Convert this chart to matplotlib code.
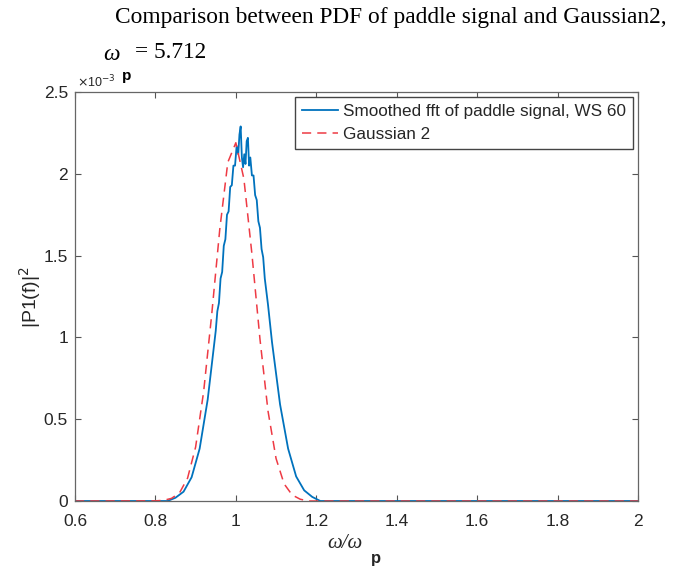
import numpy as np
import matplotlib
matplotlib.use("Agg")
import matplotlib.pyplot as plt
from matplotlib.ticker import FuncFormatter

# Smoothed fft of paddle signal (values in units of 1e-3), noisy near the top
fft_x = [0.6, 0.83, 0.85, 0.87, 0.89, 0.91, 0.93, 0.95, 0.954, 0.958, 0.962,
         0.966, 0.970, 0.974, 0.978, 0.982, 0.986, 0.990, 0.994, 0.998, 1.002,
         1.006, 1.009, 1.012, 1.015, 1.018, 1.021, 1.024, 1.027, 1.030, 1.033,
         1.036, 1.040, 1.044, 1.048, 1.052, 1.056, 1.060, 1.064, 1.068, 1.072,
         1.08, 1.09, 1.11, 1.13, 1.15, 1.17, 1.19, 1.21, 2.0]
fft_y = [0.0, 0.0, 0.02, 0.057, 0.145, 0.32, 0.62, 1.04, 1.16, 1.21, 1.36,
         1.40, 1.56, 1.60, 1.75, 1.77, 1.92, 1.93, 2.05, 2.05, 2.17,
         2.12, 2.24, 2.29, 2.10, 2.04, 2.12, 2.06, 2.20, 2.22, 2.05,
         2.10, 1.99, 1.99, 1.87, 1.84, 1.71, 1.67, 1.54, 1.49, 1.36,
         1.20, 0.97, 0.59, 0.32, 0.15, 0.065, 0.025, 0.0, 0.0]

# Gaussian 2 fit (values in units of 1e-3)
gauss_x = [0.6, 0.80, 0.82, 0.84, 0.86, 0.88, 0.90, 0.92, 0.94, 0.96, 0.98, 1.00,
           1.02, 1.04, 1.06, 1.08, 1.10, 1.12, 1.14, 1.16, 1.18, 2.0]
gauss_y = [0.0, 0.001, 0.004, 0.016, 0.05, 0.14, 0.33, 0.67, 1.14, 1.66, 2.07, 2.19,
           1.97, 1.51, 0.99, 0.55, 0.26, 0.105, 0.037, 0.011, 0.0, 0.0]

x_ticks = [0.6, 0.8, 1.0, 1.2, 1.4, 1.6, 1.8, 2.0]
y_ticks = [0, 0.5, 1.0, 1.5, 2.0, 2.5]

plt.rcParams['font.family'] = ['Liberation Sans', 'DejaVu Sans']
text_col = '#262626'
serif = ['Liberation Serif', 'DejaVu Serif']

fig = plt.figure(figsize=(6.75, 5.67), dpi=100)
ax = fig.add_axes([0.1111, 0.1164, 0.834, 0.7213])

ax.plot(fft_x, np.array(fft_y) * 1e-3, color='#0072BD', lw=1.3,
        label='Smoothed fft of paddle signal, WS 60')
ax.plot(gauss_x, np.array(gauss_y) * 1e-3, color='#ee3a44', lw=1.1,
        ls=(0, (6, 4)), label='Gaussian 2')

ax.set_xlim(0.6, 2.0)
ax.set_ylim(0, 2.5e-3)
ax.set_xticks(x_ticks)
ax.set_yticks([v * 1e-3 for v in y_ticks])
ax.xaxis.set_major_formatter(FuncFormatter(lambda v, p: f'{v:g}'))
ax.yaxis.set_major_formatter(FuncFormatter(lambda v, p: f'{v * 1e3:g}'))

ax.tick_params(direction='in', length=4, width=0.8, top=True, right=True,
               labelsize=12.5, labelcolor=text_col, color='#555555')
ax.tick_params(axis='x', pad=9)
ax.tick_params(axis='y', pad=5)
for s in ax.spines.values():
    s.set_color('#666666')
    s.set_linewidth(0.9)

leg = ax.legend(loc='upper right', fontsize=12.3, handlelength=2.1,
                borderaxespad=0.3, fancybox=False, framealpha=1,
                edgecolor='#444444', borderpad=0.4, labelspacing=0.45,
                handletextpad=0.3)
leg.get_frame().set_linewidth(1.0)
for t in leg.get_texts():
    t.set_color(text_col)

# exponent label
fig.text(77 / 675, 1 - 82 / 567, r'$\times$10$^{-3}$', fontsize=9,
         color=text_col, va='center', ha='left')

# title lines
fig.text(115 / 675, 1 - 18 / 567,
         'Comparison between PDF of paddle signal and Gaussian2,',
         family=serif, fontsize=16.8, va='center', ha='left', color='black')
fig.text(103 / 675, 1 - 54 / 567, '\u03c9', family=serif, style='italic',
         fontsize=16.8, va='center', ha='left', color='black')
fig.text(122 / 675, 1 - 76 / 567, 'p', fontsize=11, fontweight='bold',
         va='center', ha='left', color='black')
fig.text(135 / 675, 1 - 52 / 567, '= 5.712', family=serif, fontsize=16.8,
         va='center', ha='left', color='black')

# axis labels
fig.text(345 / 675, 1 - 543 / 567, '\u03c9/\u03c9', family=serif,
         style='italic', fontsize=15, va='center', ha='center', color=text_col)
fig.text(371 / 675, 1 - 558 / 567, 'p', fontsize=12, fontweight='bold',
         va='center', ha='left', color=text_col)
fig.text(30 / 675, 1 - 297 / 567, r'|P1(f)|$^2$', fontsize=14, rotation=90,
         va='center', ha='center', color=text_col)

fig.savefig('out.png', dpi=100, facecolor='white')
